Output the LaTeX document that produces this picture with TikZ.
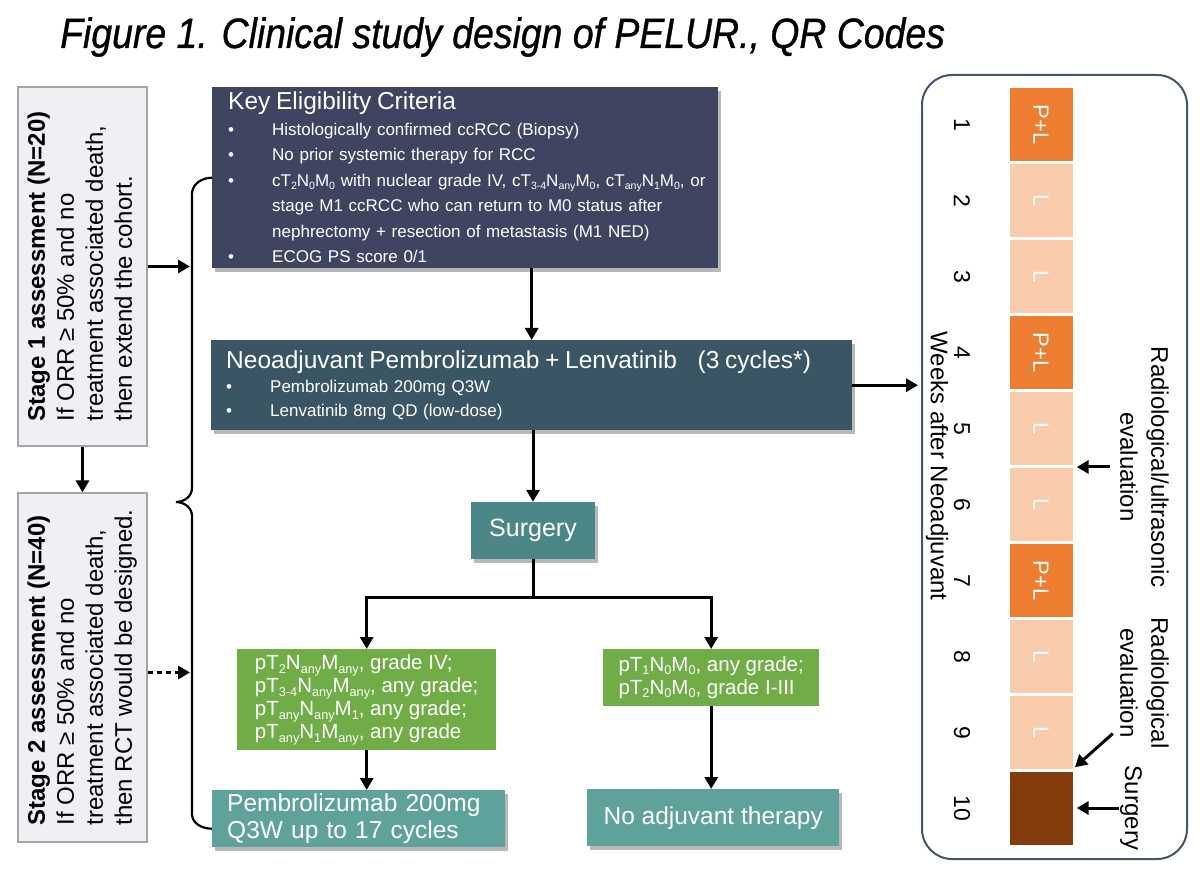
\documentclass[tikz,border=0pt]{standalone}
\usepackage{fontspec}
\setmainfont{Liberation Sans}
\newfontfamily\titlefont{Liberation Sans}[FakeStretch=0.88,FakeBold=0.8]
\usetikzlibrary{arrows.meta,shadows,calc}
\definecolor{keyc}{HTML}{3F4461}
\definecolor{neoc}{HTML}{3A5564}
\definecolor{surc}{HTML}{4B8786}
\definecolor{tealc}{HTML}{5FA29B}
\definecolor{grnc}{HTML}{70AD47}
\definecolor{stgfill}{HTML}{EEF0F4}
\definecolor{stgdraw}{HTML}{A5A5A5}
\definecolor{orgc}{HTML}{ED7D31}
\definecolor{pchc}{HTML}{F8CBAD}
\definecolor{brnc}{HTML}{843C0C}
\definecolor{tlc}{HTML}{44546A}
\newcommand{\bl}[1]{\mbox{\makebox[44pt][l]{\textbullet}#1}}
\newcommand{\ind}[1]{\mbox{\hspace*{44pt}#1}}
\newcommand{\sbs}[1]{\raisebox{-0.32ex}{\scalebox{0.62}{#1}}}
\begin{document}
\begin{tikzpicture}[x=1pt,y=-1pt,
  fbox/.style={inner sep=0pt, text=white},
  shd/.style={drop shadow={shadow xshift=3pt,shadow yshift=-4pt,opacity=0.28,fill=black}},
  arr/.style={line width=3pt,-{Triangle[length=12pt,width=13pt]}},
  ln/.style={line width=3pt},
  brc/.style={line width=2.2pt},
  stagebox/.style={draw=stgdraw,line width=1.2pt,fill=stgfill,inner sep=0pt,font=\fontsize{24}{29}\selectfont},
  cell/.style={minimum width=63pt,minimum height=73pt,inner sep=0pt,text=white,font=\fontsize{22}{22}\selectfont},
  wk/.style={inner sep=0pt,font=\fontsize{23}{23}\selectfont},
  lbl/.style={inner sep=1pt,font=\fontsize{24}{31}\selectfont},
]
\useasboundingbox (0,0) rectangle (1200,874);

% title
\node[anchor=base west,inner sep=0pt,font=\titlefont\fontsize{42.5}{44}\selectfont\itshape] (title) at (60,48) {Figure 1. Clinical study design of PELUR., QR Codes};

% stage boxes
\node[stagebox,minimum width=129pt,minimum height=359pt] (s1) at (82.5,266.5)
 {\rotatebox{90}{\begin{tabular}{@{}l@{}}\textbf{Stage 1 assessment (N=20)}\\If ORR ≥ 50\% and no\\treatment associated death,\\then extend the cohort.\end{tabular}}};
\node[stagebox,minimum width=129pt,minimum height=349pt] (s2) at (82.5,667.5)
 {\rotatebox{90}{\begin{tabular}{@{}l@{}}\textbf{Stage 2 assessment (N=40)}\\If ORR ≥ 50\% and no\\treatment associated death,\\then RCT would be designed.\end{tabular}}};

% key eligibility
\node[fbox,fill=keyc,shd,anchor=north west,minimum width=506pt,minimum height=181pt,text width=474pt,inner xsep=16pt,align=left,font=\fontsize{17}{25.5}\selectfont] (key) at (212,87)
 {{\fontsize{24.5}{28}\selectfont Key Eligibility Criteria}\\
  \bl{Histologically confirmed ccRCC (Biopsy)}\\
  \bl{No prior systemic therapy for RCC}\\
  \bl{cT\sbs{2}N\sbs{0}M\sbs{0} with nuclear grade IV, cT\sbs{3-4}N\sbs{any}M\sbs{0}, cT\sbs{any}N\sbs{1}M\sbs{0}, or}\\
  \ind{stage M1 ccRCC who can return to M0 status after}\\
  \ind{nephrectomy + resection of metastasis (M1 NED)}\\
  \bl{ECOG PS score 0/1}};

% neoadjuvant
\node[fbox,fill=neoc,shd,anchor=north west,minimum width=641pt,minimum height=90pt,text width=611pt,inner xsep=15pt,align=left,font=\fontsize{17}{24}\selectfont] (neo) at (211,340)
 {{\fontsize{24.5}{28}\selectfont Neoadjuvant Pembrolizumab + Lenvatinib\hspace{0.85em}(3 cycles*)}\\
  \bl{Pembrolizumab 200mg Q3W}\\
  \bl{Lenvatinib 8mg QD (low-dose)}};

% surgery
\node[fbox,fill=surc,shd,minimum width=124pt,minimum height=57pt,font=\fontsize{25}{25}\selectfont] (sur) at (533,530.5) {Surgery};

% green boxes
\node[fbox,fill=grnc,anchor=north west,minimum width=259pt,minimum height=101pt,align=left,font=\fontsize{20.5}{23}\selectfont] (gl) at (237,649)
 {pT\sbs{2}N\sbs{any}M\sbs{any}, grade IV;\\
  pT\sbs{3-4}N\sbs{any}M\sbs{any}, any grade;\\
  pT\sbs{any}N\sbs{any}M\sbs{1}, any grade;\\
  pT\sbs{any}N\sbs{1}M\sbs{any}, any grade};
\node[fbox,fill=grnc,anchor=north west,minimum width=216pt,minimum height=57pt,align=left,font=\fontsize{20.5}{23}\selectfont] (gr) at (603,649)
 {pT\sbs{1}N\sbs{0}M\sbs{0}, any grade;\\
  pT\sbs{2}N\sbs{0}M\sbs{0}, grade I-III};

% final boxes
\node[fbox,fill=tealc,shd,anchor=north west,minimum width=293pt,minimum height=57pt,text width=263pt,inner xsep=15pt,align=left,font=\fontsize{24.5}{27}\selectfont] (pem) at (212,790)
 {Pembrolizumab 200mg\\Q3W up to 17 cycles};
\node[fbox,fill=tealc,shd,anchor=north west,minimum width=252pt,minimum height=57pt,font=\fontsize{24.5}{27}\selectfont] (na) at (587,789)
 {No adjuvant therapy};

% timeline
\node[draw=tlc,line width=2pt,rounded corners=30pt,minimum width=265pt,minimum height=784pt,anchor=north west] (tl) at (921,74) {};
\foreach \i/\c/\t in {1/orgc/P+L,2/pchc/L,3/pchc/L,4/orgc/P+L,5/pchc/L,6/pchc/L,7/orgc/P+L,8/pchc/L,9/pchc/L,10/brnc/{}}{
  \node[cell,fill=\c] (c\i) at (1041,{124.5+(\i-1)*76}) {\rotatebox{-90}{\t}};
  \node[wk] (w\i) at (962,{124.5+(\i-1)*76}) {\rotatebox{-90}{\i}};
}
\node[inner sep=0pt] (weeks) at (937,466) {\rotatebox{-90}{\fontsize{24}{24}\selectfont Weeks after Neoadjuvant}};
\node[lbl] (rad1) at (1142,467) {\rotatebox{-90}{\begin{tabular}{@{}c@{}}Radiological/ultrasonic\\evaluation\end{tabular}}};
\node[lbl] (rad2) at (1142,683) {\rotatebox{-90}{\begin{tabular}{@{}c@{}}Radiological\\evaluation\end{tabular}}};
\node[lbl] (surl) at (1131,808) {\rotatebox{-90}{Surgery}};

% connectors
\coordinate (bx) at (190,0);
\draw[arr] (s1.east) -- (s1.east -| bx);
\draw[arr,dash pattern=on 5pt off 4pt] ([yshift=-5pt]s2.east) -- ([yshift=-5pt]s2.east -| bx);
\draw[arr] (s1.south) -- (s2.north);
\draw[brc] (key.west) to[out=180,in=90] (192,194) -- (192,488) to[out=-90,in=0] (176,502)
  to[out=0,in=90] (192,516) -- (192,814) to[out=-90,in=180] ([yshift=-10pt]pem.west);
\draw[arr] (key.south -| neo.north) -- (neo.north);
\draw[arr] (neo.south -| sur.north) -- (sur.north);
\draw[arr,shorten >=3pt] (neo.east) -- (neo.east -| tl.west);
\draw[ln] (sur.south) -- ++(0,38) coordinate (sp);
\draw[arr] (sp) -| (gl.north);
\draw[arr] (sp) -| (gr.north);
\draw[arr] (gl.south) -- (gl.south |- pem.north);
\draw[arr] (gr.south) -- (gr.south |- na.north);
\draw[arr,shorten >=4pt] (rad1.west) -- (rad1.west -| c5.east);
\draw[arr,shorten >=3pt] ($(rad2.south west)+(3,-16)$) -- (c9.south east);
\draw[arr,shorten >=4pt] (surl.west) -- (surl.west -| c10.east);
\end{tikzpicture}
\end{document}
